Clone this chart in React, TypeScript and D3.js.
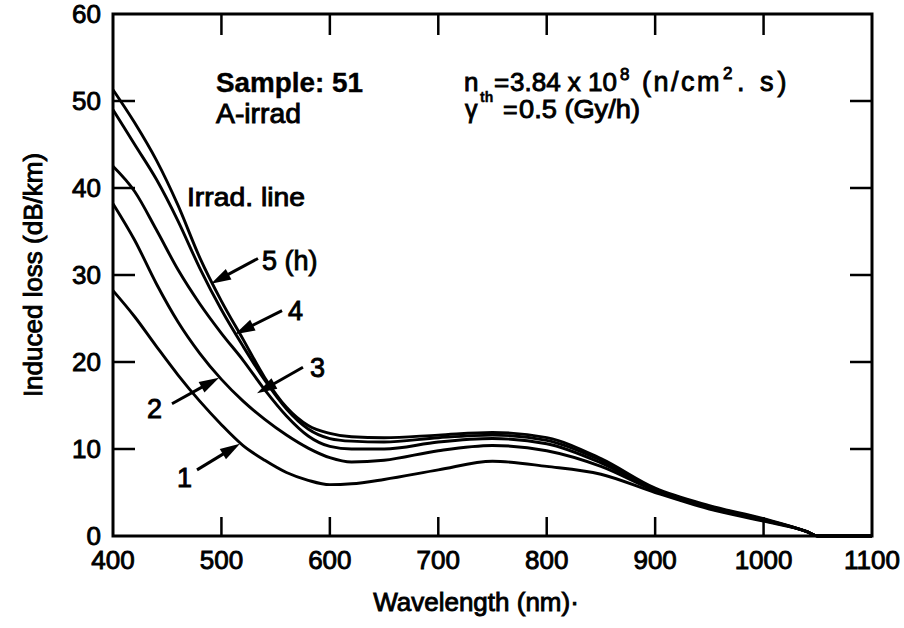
import React from "react";
import * as d3 from "d3";

const wavelengths = [400, 420, 440, 460, 480, 500, 520, 540, 560, 580, 600, 620, 650, 700, 750, 800, 850, 900, 950, 1000, 1040, 1050, 1100];
const line1 = [28.2, 25.2, 21.8, 18.5, 15.5, 12.8, 10.4, 8.7, 7.3, 6.4, 5.9, 6.0, 6.5, 7.6, 8.6, 8.0, 7.1, 5.0, 3.1, 1.7, 0.5, 0, 0];
const line2 = [38.2, 34.0, 29.0, 24.6, 21.0, 18.0, 15.5, 13.4, 11.6, 10.1, 9.0, 8.5, 8.7, 9.8, 10.4, 9.8, 8.0, 5.2, 3.2, 1.8, 0.5, 0, 0];
const line3 = [42.5, 39.6, 35.2, 30.6, 26.7, 23.3, 20.2, 16.8, 13.8, 11.5, 10.3, 10.0, 10.0, 10.8, 11.2, 10.6, 8.4, 5.3, 3.3, 1.9, 0.5, 0, 0];
const line4 = [49.0, 45.0, 41.0, 36.2, 30.8, 26.0, 21.8, 17.9, 14.6, 12.3, 11.2, 10.9, 10.8, 11.3, 11.6, 11.0, 8.7, 5.4, 3.4, 1.9, 0.5, 0, 0];
const line5 = [51.3, 47.5, 43.2, 38.0, 32.0, 27.0, 22.6, 18.2, 14.8, 12.7, 11.8, 11.4, 11.3, 11.6, 11.9, 11.3, 8.9, 5.5, 3.5, 2.0, 0.5, 0, 0];
const seriesList = [line1, line2, line3, line4, line5];

const xTicks = [400, 500, 600, 700, 800, 900, 1000, 1100];
const yTicks = [0, 10, 20, 30, 40, 50, 60];

// arrow annotations: label, tail (wavelength, loss), tip (wavelength, loss)
const arrowLabels = ["1", "2", "3", "4", "5 (h)"];
const arrowTails = [[477.5, 7.6], [454.4, 15.2], [575.2, 19.4], [555.9, 25.9], [533.7, 31.9]];
const arrowTips = [[517.1, 10.6], [497.8, 18.2], [532.8, 16.4], [512.5, 23.2], [490.4, 29.0]];

const W = 904;
const H = 628;
const x = d3.scaleLinear().domain([400, 1100]).range([113, 872]);
const y = d3.scaleLinear().domain([0, 60]).range([536, 14]);

const FONT = "'Liberation Sans', Arial, Helvetica, sans-serif";

function Arrow({ tail, tip }: { tail: number[]; tip: number[] }) {
  const x0 = x(tail[0]), y0 = y(tail[1]);
  const x1 = x(tip[0]), y1 = y(tip[1]);
  const dx = x1 - x0, dy = y1 - y0;
  const len = Math.hypot(dx, dy);
  const ux = dx / len, uy = dy / len;
  const hl = 20, hw = 6;
  const bx = x1 - ux * hl, by = y1 - uy * hl;
  const px = -uy, py = ux;
  const pts = [
    [x1, y1],
    [bx + px * hw, by + py * hw],
    [bx - px * hw, by - py * hw],
  ];
  return (
    <g>
      <line x1={x0} y1={y0} x2={bx + ux * 2} y2={by + uy * 2} stroke="#000" strokeWidth={3} />
      <polygon points={pts.map((p) => p.join(",")).join(" ")} fill="#000" />
    </g>
  );
}

export default function App() {
  const lineGen = d3
    .line<number>()
    .x((_, i) => x(wavelengths[i]))
    .y((d) => y(d))
    .curve(d3.curveMonotoneX);

  const textStyle = { fontFamily: FONT, fill: "#000", stroke: "#000", strokeWidth: 0.9 } as const;
  const labelPos = [
    [177, 487],
    [147, 418],
    [310, 377],
    [288, 320],
    [262, 270],
  ];

  return (
    <svg width={W} height={H} style={{ position: "absolute", left: 0, top: 0, background: "#fff" }}>
      <rect x={0} y={0} width={W} height={H} fill="#fff" />
      {/* curves */}
      {seriesList.map((s, i) => (
        <path key={i} d={lineGen(s) || ""} fill="none" stroke="#000" strokeWidth={2.9} strokeLinejoin="round" />
      ))}
      {/* frame */}
      <rect x={x(400)} y={y(60)} width={x(1100) - x(400)} height={y(0) - y(60)} fill="none" stroke="#000" strokeWidth={3} />
      {/* ticks */}
      {xTicks.slice(1, -1).map((t) => (
        <g key={"xt" + t}>
          <line x1={x(t)} x2={x(t)} y1={y(0)} y2={y(0) - 19} stroke="#000" strokeWidth={2.5} />
          <line x1={x(t)} x2={x(t)} y1={y(60)} y2={y(60) + 21} stroke="#000" strokeWidth={2.5} />
        </g>
      ))}
      {yTicks.slice(1, -1).map((t) => (
        <g key={"yt" + t}>
          <line x1={x(400)} x2={x(400) + 22} y1={y(t)} y2={y(t)} stroke="#000" strokeWidth={2.5} />
          <line x1={x(1100)} x2={x(1100) - 22} y1={y(t)} y2={y(t)} stroke="#000" strokeWidth={2.5} />
        </g>
      ))}
      {/* tick labels */}
      {xTicks.map((t) => (
        <text key={"xl" + t} x={x(t)} y={569} textAnchor="middle" fontSize={26} style={textStyle}>
          {t}
        </text>
      ))}
      {yTicks.map((t) => (
        <text key={"yl" + t} x={101} y={y(t) + 9} textAnchor="end" fontSize={26} style={textStyle}>
          {t}
        </text>
      ))}
      {/* axis titles */}
      <text x={476} y={611} textAnchor="middle" fontSize={26} style={textStyle}>
        Wavelength (nm)·
      </text>
      <text
        transform={`translate(42, ${(y(0) + y(60)) / 2}) rotate(-90)`}
        textAnchor="middle"
        fontSize={26}
        style={textStyle}
      >
        Induced loss (dB/km)
      </text>
      {/* annotations */}
      <text x={216} y={92} fontSize={27} fontWeight="bold" textLength={147} lengthAdjust="spacingAndGlyphs" style={{ ...textStyle, strokeWidth: 0.4 }}>
        Sample: 51
      </text>
      <text x={216} y={123} fontSize={27} textLength={85} lengthAdjust="spacingAndGlyphs" style={textStyle}>
        A-irrad
      </text>
      <text x={464} y={91} fontSize={26} style={textStyle}>
        n
      </text>
      <text x={480} y={102} fontSize={14} fontWeight="bold" style={{ ...textStyle, strokeWidth: 0.4 }}>
        th
      </text>
      <text x={494} y={91} fontSize={26} style={textStyle}>
        =
      </text>
      <text x={510} y={91} fontSize={26} style={textStyle}>
        3.84 x 10
      </text>
      <text x={620} y={80} fontSize={17} style={textStyle}>
        8
      </text>
      <text x={642} y={91} fontSize={27} letterSpacing={2.5} style={textStyle}>
        (n/cm
      </text>
      <text x={723} y={79} fontSize={17} style={textStyle}>
        2
      </text>
      <text x={737} y={91} fontSize={27} letterSpacing={4} style={textStyle}>
        . s)
      </text>
      <text x={465} y={118} fontSize={25} style={textStyle}>
        γ
      </text>
      <text x={503} y={118} fontSize={25} style={textStyle}>
        =
      </text>
      <text x={519} y={118} fontSize={25} textLength={121} lengthAdjust="spacingAndGlyphs" style={textStyle}>
        0.5 (Gy/h)
      </text>
      <text x={187} y={206} fontSize={26} textLength={118} lengthAdjust="spacingAndGlyphs" style={textStyle}>
        Irrad. line
      </text>
      {arrowLabels.map((lab, i) => (
        <g key={"ar" + i}>
          <Arrow tail={arrowTails[i]} tip={arrowTips[i]} />
          <text x={labelPos[i][0]} y={labelPos[i][1]} fontSize={27} style={textStyle}>
            {lab}
          </text>
        </g>
      ))}
    </svg>
  );
}
